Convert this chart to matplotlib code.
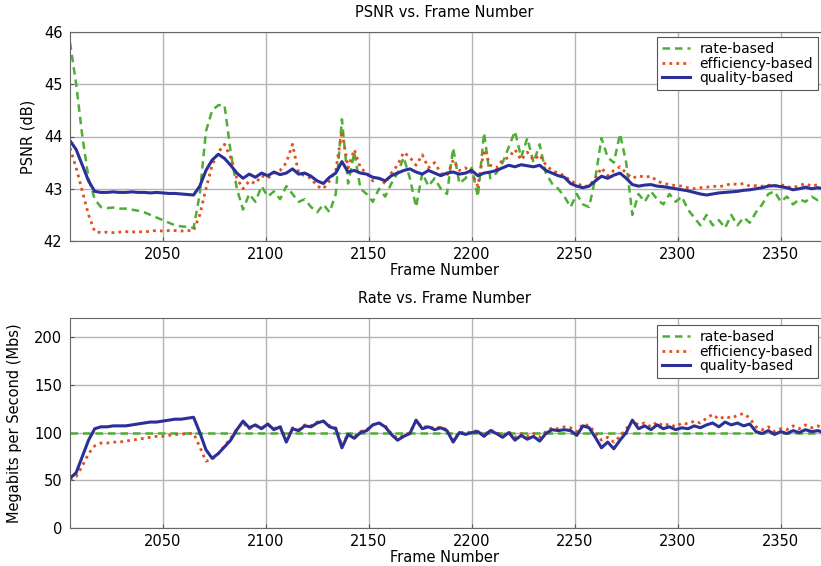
import matplotlib
matplotlib.use("Agg")
from matplotlib import pyplot as plt

# frame numbers sampled every 3 frames (2005 .. 2371)
frames = list(range(2005, 2372, 3))

# PSNR (dB)
psnr_rate = [45.8, 45.0, 44.0, 43.2, 42.8, 42.65, 42.63, 42.64, 42.62, 42.62,
             42.6, 42.58, 42.55, 42.5, 42.45, 42.4, 42.35, 42.3, 42.28, 42.27,
             42.25, 42.9, 44.1, 44.5, 44.6, 44.6, 43.7, 43.0, 42.6, 42.9,
             42.75, 43.05, 42.85, 42.95, 42.8, 43.05, 42.9, 42.75, 42.8, 42.65,
             42.55, 42.7, 42.55, 42.9, 44.33, 43.1, 43.7, 43.0, 42.9, 42.75,
             43.0, 42.85, 43.1, 43.3, 43.6, 43.2, 42.65, 43.3, 43.05, 43.2,
             43.0, 42.9, 43.78, 43.1, 43.2, 43.4, 42.85, 44.07, 43.2, 43.3,
             43.5, 43.8, 44.1, 43.6, 43.97, 43.5, 43.85, 43.3, 43.1, 43.0,
             42.85, 42.65, 42.9, 42.7, 42.65, 43.2, 43.97, 43.6, 43.5, 44.05,
             43.5, 42.5, 42.9, 42.75, 42.95, 42.8, 42.7, 42.9, 42.75, 42.85,
             42.6, 42.45, 42.3, 42.5, 42.3, 42.4, 42.25, 42.5, 42.3, 42.45,
             42.35, 42.55, 42.7, 42.9, 42.95, 42.75, 42.85, 42.7, 42.8, 42.75,
             42.85, 42.78, 42.82]
psnr_eff = [43.78, 43.4, 42.95, 42.5, 42.18, 42.16, 42.17, 42.16, 42.17, 42.18,
            42.17, 42.18, 42.17, 42.19, 42.2, 42.19, 42.2, 42.2, 42.19, 42.2,
            42.2, 42.5, 43.0, 43.45, 43.7, 43.85, 43.6, 43.2, 43.0, 43.15,
            43.1, 43.25, 43.2, 43.3, 43.35, 43.5, 43.85, 43.3, 43.25, 43.2,
            43.05, 43.0, 43.15, 43.35, 44.1, 43.4, 43.75, 43.4, 43.3, 43.15,
            43.2, 43.1, 43.3, 43.45, 43.7, 43.6, 43.45, 43.65, 43.4, 43.5,
            43.3, 43.25, 43.55, 43.35, 43.4, 43.3, 43.05, 43.75, 43.45, 43.4,
            43.55, 43.6, 43.75, 43.55, 43.7, 43.55, 43.65, 43.45, 43.35, 43.3,
            43.25, 43.15, 43.1, 43.05, 43.05, 43.2, 43.4, 43.25, 43.35, 43.42,
            43.3, 43.2, 43.25, 43.22, 43.24, 43.15, 43.1, 43.08, 43.06, 43.05,
            43.02, 43.0, 43.02, 43.03, 43.05, 43.04, 43.06, 43.1, 43.08, 43.1,
            43.05, 43.06, 43.05, 43.07, 43.05, 43.08, 43.04, 43.02, 43.06, 43.1,
            43.05, 43.08, 43.06]
psnr_qual = [43.92, 43.75, 43.45, 43.15, 42.95, 42.93, 42.93, 42.94, 42.93, 42.93,
             42.94, 42.93, 42.93, 42.92, 42.93, 42.92, 42.91, 42.91, 42.9, 42.89,
             42.88, 43.05, 43.35, 43.55, 43.66, 43.58, 43.45, 43.3, 43.2, 43.28,
             43.22, 43.3, 43.25, 43.32, 43.27, 43.3, 43.38, 43.28, 43.3, 43.24,
             43.15, 43.1, 43.22, 43.3, 43.52, 43.32, 43.35, 43.3, 43.28, 43.22,
             43.2, 43.15, 43.25, 43.3, 43.35, 43.38, 43.32, 43.28, 43.35, 43.3,
             43.25, 43.3, 43.32, 43.28, 43.3, 43.35, 43.25, 43.3, 43.32, 43.35,
             43.4, 43.45, 43.42, 43.46, 43.44, 43.42, 43.45, 43.35, 43.3, 43.25,
             43.22, 43.1, 43.05, 43.02, 43.05, 43.15, 43.24, 43.2, 43.26, 43.3,
             43.2, 43.08, 43.05, 43.07, 43.08, 43.05, 43.04, 43.02, 43.0, 42.98,
             42.96, 42.93, 42.9, 42.88, 42.9, 42.92, 42.93, 42.94, 42.95, 42.97,
             42.98, 43.0, 43.02, 43.05, 43.06, 43.04, 43.02, 42.98, 43.0, 43.03,
             43.0, 43.02, 43.0]

# rate (Mbs)
rate_target = 100
rate_eff = [50, 54, 65, 78, 86, 89, 89, 90, 90, 91,
            92, 93, 94, 95, 96, 96, 97, 98, 98, 99,
            99, 85, 70, 72, 78, 86, 94, 104, 110, 104,
            107, 105, 108, 104, 107, 92, 105, 103, 108, 107,
            111, 112, 107, 105, 86, 99, 96, 101, 103, 108,
            110, 107, 99, 94, 97, 100, 112, 105, 107, 104,
            106, 103, 92, 101, 99, 101, 102, 97, 103, 100,
            97, 101, 95, 99, 96, 99, 95, 101, 105, 104,
            106, 105, 101, 109, 107, 100, 92, 95, 90, 96,
            104, 112, 108, 110, 106, 111, 107, 109, 106, 110,
            109, 112, 110, 115, 119, 114, 117, 115, 118, 120,
            115, 106, 103, 106, 101, 104, 103, 107, 104, 108,
            105, 107, 104]
rate_qual = [52, 58, 75, 92, 104, 106, 106, 107, 107, 107,
             108, 109, 110, 111, 111, 112, 113, 114, 114, 115,
             116, 100, 82, 73, 78, 85, 92, 103, 112, 105,
             108, 104, 109, 103, 106, 90, 104, 102, 107, 106,
             110, 112, 106, 104, 84, 98, 94, 100, 102, 108,
             110, 106, 98, 92, 96, 99, 113, 104, 106, 103,
             105, 102, 90, 100, 98, 100, 101, 96, 102, 99,
             95, 100, 92, 97, 93, 96, 91, 99, 103, 102,
             103, 102, 97, 107, 105, 95, 84, 90, 83, 92,
             100, 113, 104, 107, 103, 108, 104, 106, 103, 105,
             104, 107, 105, 108, 110, 106, 111, 108, 110, 107,
             109, 101, 99, 102, 98, 101, 99, 102, 100, 103,
             101, 102, 100]

labels = ["rate-based", "efficiency-based", "quality-based"]
xticks = [2050, 2100, 2150, 2200, 2250, 2300, 2350]

green = "#4fae35"
red = "#e0501e"
blue = "#2b2f98"

plt.rcParams["font.family"] = "DejaVu Sans"
fig = plt.figure(figsize=(8.21, 5.66), dpi=100)

W, H = 821.0, 566.0
ax_w = 772.5 / W
ax1 = fig.add_axes([70 / W, 1 - 241 / H, ax_w, 209 / H])
ax2 = fig.add_axes([70 / W, 1 - 528 / H, ax_w, 210 / H])

def style(ax, title, ylabel, ylab_x):
    ax.set_xlim(2005, 2380)
    ax.set_xticks(xticks)
    ax.grid(True, color="#b4b4b4", linewidth=1.0)
    ax.set_axisbelow(True)
    ax.tick_params(direction="in", length=3, labelsize=10.5, color="#555555")
    ax.tick_params(axis="y", pad=5.5)
    ax.tick_params(axis="x", pad=4.5)
    for s in ax.spines.values():
        s.set_color("#666666")
    ax.set_title(title, fontsize=10.5, x=0.485, y=1.072, pad=0)
    ax.set_xlabel("Frame Number", fontsize=10.5)
    ax.xaxis.set_label_coords(0.485, -0.105)
    ax.set_ylabel(ylabel, fontsize=10.5)
    ax.yaxis.set_label_coords(ylab_x, 0.5)

ax1.plot(frames, psnr_rate, color=green, lw=1.8, dashes=(3, 2), label=labels[0])
ax1.plot(frames, psnr_eff, color=red, lw=2.0, dashes=(1, 1.5), label=labels[1])
ax1.plot(frames, psnr_qual, color=blue, lw=2.2, label=labels[2])
ax1.set_ylim(42, 46)
ax1.set_yticks([42, 43, 44, 45, 46])
style(ax1, "PSNR vs. Frame Number", "PSNR (dB)", -0.045)

ax2.plot(frames, [rate_target] * len(frames), color=green, lw=1.8, dashes=(3, 2), label=labels[0])
ax2.plot(frames, rate_eff, color=red, lw=2.0, dashes=(1, 1.5), label=labels[1])
ax2.plot(frames, rate_qual, color=blue, lw=2.2, label=labels[2])
ax2.set_ylim(0, 220)
ax2.set_yticks([0, 50, 100, 150, 200])
style(ax2, "Rate vs. Frame Number", "Megabits per Second (Mbs)", -0.062)

for ax, top in [(ax1, 37), (ax2, 325)]:
    leg = ax.legend(loc="upper right", bbox_to_anchor=(818 / W, 1 - top / H),
                    bbox_transform=fig.transFigure, borderaxespad=0,
                    fontsize=10, labelspacing=0.05, handlelength=2.0,
                    handletextpad=0.7, borderpad=0.35, fancybox=False,
                    framealpha=1.0, edgecolor="#555555")
    leg.get_frame().set_linewidth(0.8)

fig.savefig("out.png", dpi=100)
